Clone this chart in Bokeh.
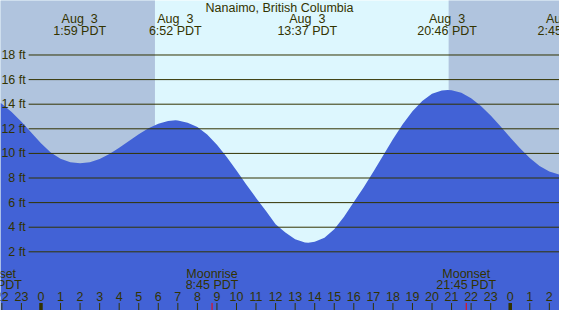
from bokeh.plotting import figure
from bokeh.models import Range1d
from bokeh.embed import file_html
from bokeh.resources import INLINE
from bokeh.core.properties import value

# ---------------- data ----------------
tide_hours = [-2.07, -1.5, -1.0, -0.5, 0.0, 0.5, 1.0, 1.5, 2.0, 2.5, 3.0, 3.5, 4.0, 4.5,
              5.0, 5.5, 6.0, 6.5, 6.88, 7.0, 7.5, 8.0, 8.5, 9.0, 9.5, 10.0, 10.5, 11.0,
              11.5, 12.0, 12.5, 13.0, 13.5, 13.67, 14.0, 14.5, 15.0, 15.5, 16.0, 16.5,
              17.0, 17.5, 18.0, 18.5, 19.0, 19.5, 20.0, 20.5, 20.8, 21.0, 21.5, 22.0,
              22.5, 23.0, 23.5, 24.0, 24.5, 25.0, 25.5, 26.0, 26.52]
tide_feet = [14.12, 13.37, 12.57, 11.70, 10.82, 10.07, 9.56, 9.28, 9.19, 9.28, 9.54, 9.95,
             10.45, 11.01, 11.56, 12.04, 12.42, 12.64, 12.69, 12.68, 12.49, 12.14, 11.53,
             10.70, 9.71, 8.61, 7.48, 6.38, 5.33, 4.25, 3.58, 3.03, 2.75, 2.74, 2.81, 3.15,
             3.83, 4.85, 6.04, 7.23, 8.50, 9.82, 11.16, 12.38, 13.43, 14.27, 14.84, 15.11,
             15.16, 15.14, 14.93, 14.49, 13.86, 13.08, 12.21, 11.30, 10.42, 9.62, 8.98,
             8.52, 8.28]

night_start = [-3.0, 20.85]
night_end = [5.83, 28.0]

level_ticks = [2, 4, 6, 8, 10, 12, 14, 16, 18]
level_labels = ["2 ft", "4 ft", "6 ft", "8 ft", "10 ft", "12 ft", "14 ft", "16 ft", "18 ft"]

extreme_hours = [1.98, 6.87, 13.62, 20.77, 26.75]
extreme_dates = ["Aug\u00a0\u00a03", "Aug\u00a0\u00a03", "Aug\u00a0\u00a03",
                 "Aug\u00a0\u00a03", "Aug\u00a0\u00a04"]
extreme_times = ["1:59 PDT", "6:52 PDT", "13:37 PDT", "20:46 PDT", "2:45 PDT"]

hour_ticks = [-2, -1, 0, 1, 2, 3, 4, 5, 6, 7, 8, 9, 10, 11, 12, 13, 14, 15, 16, 17,
              18, 19, 20, 21, 22, 23, 24, 25, 26]
hour_labels = ["22", "23", "0", "1", "2", "3", "4", "5", "6", "7", "8", "9", "10", "11",
               "12", "13", "14", "15", "16", "17", "18", "19", "20", "21", "22", "23",
               "0", "1", "2"]
midnight_hours = [0, 24]

moon_hours = [-2.5, 8.75, 21.75]
moon_events = ["Moonset", "Moonrise", "Moonset"]
moon_times = ["21:30 PDT", "8:45 PDT", "21:45 PDT"]

title_text = "Nanaimo, British Columbia"

# ---------------- styling ----------------
DAY = "#DDF7FE"
NIGHT = "#B0C4DE"
WATER = "#4262D6"
INK = "#333300"
FONT = value("Liberation Sans")
FS = "12.5px"

X0, X1 = -2.07, 26.52
Y0, Y1 = -2.77, 22.43

p = figure(width=559, height=310, x_range=Range1d(X0, X1), y_range=Range1d(Y0, Y1),
           output_backend="svg", toolbar_location=None, min_border=0)
p.axis.visible = False
p.grid.visible = False
p.outline_line_color = None
p.background_fill_color = DAY
p.border_fill_color = DAY

# night shading
p.quad(left=night_start, right=night_end, bottom=Y0 - 5, top=Y1 + 5,
       fill_color=NIGHT, line_color=None)

# tide area
p.varea(x=tide_hours, y1=[Y0 - 5] * len(tide_hours), y2=tide_feet, fill_color=WATER)

# level lines + labels
p.segment(x0=[-0.63] * len(level_ticks), x1=[X1 + 1] * len(level_ticks),
          y0=level_ticks, y1=level_ticks, line_color=INK, line_width=1)
p.text(x=[-0.78] * len(level_ticks), y=level_ticks, text=level_labels,
       text_align="right", text_baseline="middle", text_font=FONT,
       text_font_size=FS, text_color=INK)

# title
p.text(x=[12.2], y=[21.81], text=[title_text], text_align="center",
       text_baseline="middle", text_font=FONT, text_font_size=FS, text_color=INK)

# extremes labels
p.text(x=extreme_hours, y=[20.92] * len(extreme_hours), text=extreme_dates,
       text_align="center", text_baseline="middle", text_font=FONT,
       text_font_size=FS, text_color=INK)
p.text(x=extreme_hours, y=[19.98] * len(extreme_hours), text=extreme_times,
       text_align="center", text_baseline="middle", text_font=FONT,
       text_font_size=FS, text_color=INK)

# moon labels
p.text(x=moon_hours, y=[0.21] * len(moon_hours), text=moon_events,
       text_align="center", text_baseline="middle", text_font=FONT,
       text_font_size=FS, text_color=INK)
p.text(x=moon_hours, y=[-0.70] * len(moon_hours), text=moon_times,
       text_align="center", text_baseline="middle", text_font=FONT,
       text_font_size=FS, text_color=INK)

# hour labels and ticks
p.text(x=hour_ticks, y=[-1.66] * len(hour_ticks), text=hour_labels,
       text_align="center", text_baseline="middle", text_font=FONT,
       text_font_size=FS, text_color=INK)
p.segment(x0=hour_ticks, x1=hour_ticks, y0=[-2.16] * len(hour_ticks),
          y1=[Y0 - 1] * len(hour_ticks), line_color=INK, line_width=1)
p.segment(x0=midnight_hours, x1=midnight_hours, y0=[-2.16] * len(midnight_hours),
          y1=[Y0 - 1] * len(midnight_hours), line_color=INK, line_width=3.5)
p.segment(x0=moon_hours, x1=moon_hours, y0=[-2.16] * len(moon_hours),
          y1=[Y0 - 1] * len(moon_hours), line_color="#FF0000", line_width=1)

open("out.html", "w").write(file_html(p, INLINE))
